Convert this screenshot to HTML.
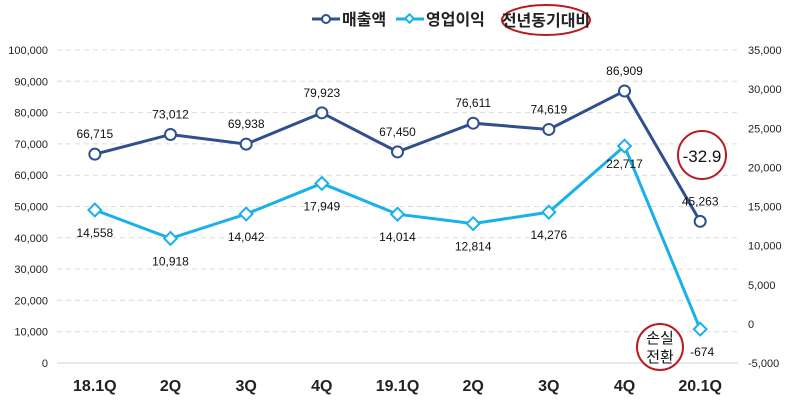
<!DOCTYPE html>
<html><head><meta charset="utf-8"><style>
body{margin:0;background:#fff;}
svg text{font-family:"Liberation Sans","Noto Sans CJK KR",sans-serif;}
</style></head><body>
<svg id="chart" width="790" height="406">
<g id="grid"></g><g id="axes"></g><g id="series"></g>
<g>
 <line x1="312" y1="19" x2="340" y2="19" stroke="#2f4f8f" stroke-width="3"/>
 <circle cx="326" cy="19" r="4" fill="#fff" stroke="#2f4f8f" stroke-width="2"/>
 <text x="342" y="25" font-size="16" font-weight="bold" fill="#222">매출액</text>
 <line x1="396" y1="19" x2="424" y2="19" stroke="#1ab0ec" stroke-width="3"/>
 <rect x="406.5" y="15.5" width="6" height="6" transform="rotate(45 409.5 18.5)" fill="#fff" stroke="#1ab0ec" stroke-width="2"/>
 <text x="426" y="25" font-size="16" font-weight="bold" fill="#222">영업이익</text>
 <ellipse cx="546" cy="20" rx="44" ry="15" fill="none" stroke="#b81c22" stroke-width="2"/>
 <text x="546" y="26" font-size="16" font-weight="bold" fill="#222" text-anchor="middle">전년동기대비</text>
</g>
<g>
 <circle cx="702" cy="155" r="24" fill="#fff" stroke="#b81c22" stroke-width="2"/>
 <text x="702" y="162" font-size="17" text-anchor="middle" fill="#111">-32.9</text>
</g>
<g>
 <circle cx="660" cy="347" r="23" fill="#fff" stroke="#b81c22" stroke-width="2"/>
 <text x="660" y="343" font-size="15" text-anchor="middle" fill="#111">손실</text>
 <text x="660" y="362" font-size="15" text-anchor="middle" fill="#111">전환</text>
</g>
</svg>
<script>
const categories=["18.1Q","2Q","3Q","4Q","19.1Q","2Q","3Q","4Q","20.1Q"];
const revenue=[66715,73012,69938,79923,67450,76611,74619,86909,45263];
const profit=[14558,10918,14042,17949,14014,12814,14276,22717,-674];
const leftTicks=[0,10000,20000,30000,40000,50000,60000,70000,80000,90000,100000];
const rightTicks=[-5000,0,5000,10000,15000,20000,25000,30000,35000];
const NS="http://www.w3.org/2000/svg";
const yTop=50,yBot=363,x0=57,x1=738;
const yL=v=>yBot-(v/100000)*(yBot-yTop);
const yR=v=>yBot-((v+5000)/40000)*(yBot-yTop);
const xs=i=>x0+(i+0.5)*(x1-x0)/categories.length;
const fmt=v=>v.toLocaleString("en-US");
function mk(tag,attrs,parent,txt){const e=document.createElementNS(NS,tag);for(const k in attrs)e.setAttribute(k,attrs[k]);if(txt!==undefined)e.textContent=txt;parent.appendChild(e);return e;}
const gridG=document.getElementById("grid"),axesG=document.getElementById("axes"),serG=document.getElementById("series");
leftTicks.forEach(t=>{const y=yL(t);
 const l=mk("line",{x1:x0,x2:x1,y1:y,y2:y,stroke:t===0?"#d0d0d0":"#dcdcdc","stroke-dasharray":t===0?"":"5,4"},gridG);
 
 
 const tx=mk("text",{x:48,y:y+4,"font-size":11,"text-anchor":"end",fill:"#222"},axesG,fmt(t));
 
 
});
rightTicks.forEach(t=>{const y=yR(t);
 const tx=mk("text",{x:748,y:y+4,"font-size":11,fill:"#222"},axesG,fmt(t));
 
 
});
categories.forEach((c,i)=>{
 const tx=mk("text",{x:xs(i),y:391,"font-size":16,"font-weight":"bold","text-anchor":"middle",fill:"#222"},axesG,c);
 
 
});
const lr=mk("polyline",{points:revenue.map((v,i)=>xs(i)+","+yL(v)).join(" "),fill:"none",stroke:"#2f4f8f","stroke-width":3},serG);


const lp=mk("polyline",{points:profit.map((v,i)=>xs(i)+","+yR(v)).join(" "),fill:"none",stroke:"#1ab0ec","stroke-width":3},serG);


revenue.forEach((v,i)=>{const x=xs(i),y=yL(v);
 const c=mk("circle",{cx:x,cy:y,r:5.5,fill:"#fff",stroke:"#2f4f8f","stroke-width":2},serG);
 
 
 const t=mk("text",{x:x,y:y-16,"font-size":12,"text-anchor":"middle",fill:"#111"},serG,fmt(v));
 
 
});
profit.forEach((v,i)=>{const x=xs(i),y=yR(v);
 const r=mk("rect",{x:x-4.5,y:y-4.5,width:9,height:9,transform:`rotate(45 ${x} ${y})`,fill:"#fff",stroke:"#1ab0ec","stroke-width":2},serG);
 
 
 const t=mk("text",{x:x+(v<0?2:0),y:y+(i===7?22:27),"font-size":12,"text-anchor":"middle",fill:"#111"},serG,fmt(v));
 
 
});
</script>
</body></html>
